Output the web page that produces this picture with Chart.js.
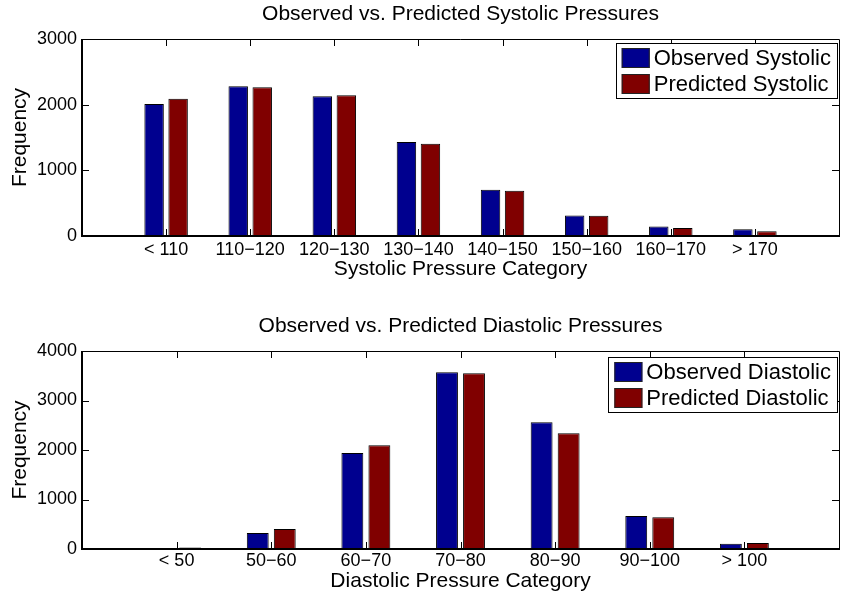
<!DOCTYPE html>
<html>
<head>
<meta charset="utf-8">
<script src="https://cdn.jsdelivr.net/npm/chart.js@4/dist/chart.umd.min.js"></script>
<style>
  html, body { margin: 0; padding: 0; background: #fff; }
  #wrap { position: relative; width: 845px; height: 602px; }
  .pane { position: absolute; left: 0; width: 845px; height: 301px; }
</style>
</head>
<body>
<div id="wrap">
  <div class="pane" style="top:0"><canvas id="sys" width="845" height="301"></canvas></div>
  <div class="pane" style="top:301px"><canvas id="dia" width="845" height="301"></canvas></div>
</div>
<script>
// Systolic pressure counts per category
const systolicCategories = ['< 110', '110\u2212120', '120\u2212130', '130\u2212140', '140\u2212150', '150\u2212160', '160\u2212170', '> 170'];
const observedSystolic  = [2010, 2280, 2130, 1430, 705, 312, 146, 101];
const predictedSystolic = [2090, 2265, 2145, 1405, 690, 310, 122, 72];

// Diastolic pressure counts per category
const diastolicCategories = ['< 50', '50\u221260', '60\u221270', '70\u221280', '80\u221290', '90\u2212100', '> 100'];
const observedDiastolic  = [5, 323, 1940, 3570, 2560, 665, 107];
const predictedDiastolic = [32, 404, 2095, 3550, 2340, 640, 120];

const OBS_COLOR = '#00008F';
const PRED_COLOR = '#800000';
const FONT = "'Liberation Sans', Arial, Helvetica, sans-serif";

Chart.defaults.font.family = FONT;
Chart.defaults.color = '#000';

// Box around the plot with inward tick marks on all four sides
const boxedAxes = {
  id: 'boxedAxes',
  afterDatasetsDraw(chart) {
    const { ctx, chartArea: a, scales: { x, y } } = chart;
    const len = 7;
    ctx.save();
    ctx.strokeStyle = '#000';
    ctx.lineWidth = 1;
    ctx.beginPath();
    x.ticks.forEach((t, i) => {
      if (!x.getLabelForValue(t.value)) return;
      const px = Math.round(x.getPixelForTick(i)) + 0.5;
      ctx.moveTo(px, a.bottom); ctx.lineTo(px, a.bottom - len);
      ctx.moveTo(px, a.top); ctx.lineTo(px, a.top + len);
    });
    y.ticks.forEach((t, i) => {
      const py = Math.round(y.getPixelForTick(i)) + 0.5;
      ctx.moveTo(a.left, py); ctx.lineTo(a.left + len, py);
      ctx.moveTo(a.right, py); ctx.lineTo(a.right - len, py);
    });
    ctx.stroke();
    // top and right edges
    ctx.beginPath();
    ctx.moveTo(a.left, Math.round(a.top) + 0.5);
    ctx.lineTo(Math.round(a.right) + 0.5, Math.round(a.top) + 0.5);
    ctx.lineTo(Math.round(a.right) + 0.5, a.bottom);
    ctx.stroke();
    // heavier left and bottom edges
    ctx.lineWidth = 2;
    ctx.beginPath();
    ctx.moveTo(Math.round(a.left), a.top);
    ctx.lineTo(Math.round(a.left), Math.round(a.bottom));
    ctx.lineTo(a.right + 1, Math.round(a.bottom));
    ctx.stroke();
    ctx.restore();
  }
};

// Framed legend in the upper-right corner of the plot
const framedLegend = {
  id: 'framedLegend',
  afterDraw(chart, args, opts) {
    const { ctx, chartArea: a } = chart;
    const sets = chart.data.datasets;
    const sw = 28, sh = 20, row = 26, inset = 6, gap = 4;
    ctx.save();
    ctx.font = `${opts.fontSize}px ${FONT}`;
    const textW = Math.max(...sets.map(d => ctx.measureText(d.label).width));
    const boxW = inset + sw + gap + textW + inset;
    const boxH = 5 + row * (sets.length - 1) + sh + 4;
    const right = a.right - 2;
    const left = right - boxW;
    const top = a.top + opts.offsetTop;
    ctx.fillStyle = '#fff';
    ctx.fillRect(left, top, boxW, boxH);
    ctx.strokeStyle = '#000';
    ctx.lineWidth = 1;
    ctx.strokeRect(Math.round(left) + 0.5, Math.round(top) + 0.5, Math.round(boxW), Math.round(boxH));
    sets.forEach((d, i) => {
      const sy = top + 5 + i * row;
      ctx.fillStyle = d.backgroundColor;
      ctx.fillRect(left + inset, sy, sw, sh);
      ctx.strokeStyle = '#222';
      ctx.strokeRect(left + inset + 0.5, sy + 0.5, sw - 1, sh - 1);
      ctx.fillStyle = '#000';
      ctx.textBaseline = 'middle';
      ctx.textAlign = 'left';
      ctx.fillText(d.label, left + inset + sw + gap, sy + sh / 2 + 1);
    });
    ctx.restore();
  }
};

function makeChart(id, cats, obs, pred, names, yMax, titleText, xTitle, g) {
  // one empty slot on either side leaves a full category gap at the plot edges
  const labels = [''].concat(cats, ['']);
  const pad = arr => [null].concat(arr, [null]);
  return new Chart(document.getElementById(id), {
    type: 'bar',
    data: {
      labels,
      datasets: [
        { label: names[0], data: pad(obs), backgroundColor: OBS_COLOR, borderColor: '#000', borderWidth: 1,
          categoryPercentage: 0.571, barPercentage: 0.81 },
        { label: names[1], data: pad(pred), backgroundColor: PRED_COLOR, borderColor: '#000', borderWidth: 1,
          categoryPercentage: 0.571, barPercentage: 0.81 }
      ]
    },
    options: {
      responsive: false,
      animation: false,
      devicePixelRatio: 1,
      layout: { padding: { left: 0, right: 6, top: 0, bottom: 0 } },
      plugins: {
        legend: { display: false },
        tooltip: { enabled: false },
        title: {
          display: true, text: titleText,
          fullSize: false,
          font: { size: 21, weight: 'normal' },
          color: '#000',
          padding: { top: g.titleTop, bottom: g.titleBottom }
        },
        framedLegend: { fontSize: 22, offsetTop: g.legendTop }
      },
      scales: {
        x: {
          offset: false,
          grid: { display: false, drawTicks: false },
          border: { display: false },
          ticks: { autoSkip: false, maxRotation: 0, padding: g.tickPad, font: { size: 18 }, color: '#000' },
          title: { display: true, text: xTitle, font: { size: 21 }, color: '#000', padding: { top: 0, bottom: g.xTitleBottom } },
          afterFit: s => { s.height = g.xHeight; }
        },
        y: {
          min: 0, max: yMax,
          grid: { display: false, drawTicks: false },
          border: { display: false },
          ticks: { stepSize: 1000, padding: 5, font: { size: 18 }, color: '#000', callback: v => String(v) },
          title: { display: true, text: 'Frequency', font: { size: 21 }, color: '#000', padding: { top: 7.4, bottom: 0 } },
          afterFit: s => { s.width = 82; }
        }
      }
    },
    plugins: [boxedAxes, framedLegend]
  });
}

makeChart('sys', systolicCategories, observedSystolic, predictedSystolic,
  ['Observed Systolic', 'Predicted Systolic'], 3000,
  'Observed vs. Predicted Systolic Pressures', 'Systolic Pressure Category',
  { titleTop: 1.4, titleBottom: 12.4, xHeight: 65, tickPad: 3, xTitleBottom: 19.4, legendTop: 4 });

makeChart('dia', diastolicCategories, observedDiastolic, predictedDiastolic,
  ['Observed Diastolic', 'Predicted Diastolic'], 4000,
  'Observed vs. Predicted Diastolic Pressures', 'Diastolic Pressure Category',
  { titleTop: 12.4, titleBottom: 12.4, xHeight: 53, tickPad: 1, xTitleBottom: 8.4, legendTop: 6 });
</script>
</body>
</html>
